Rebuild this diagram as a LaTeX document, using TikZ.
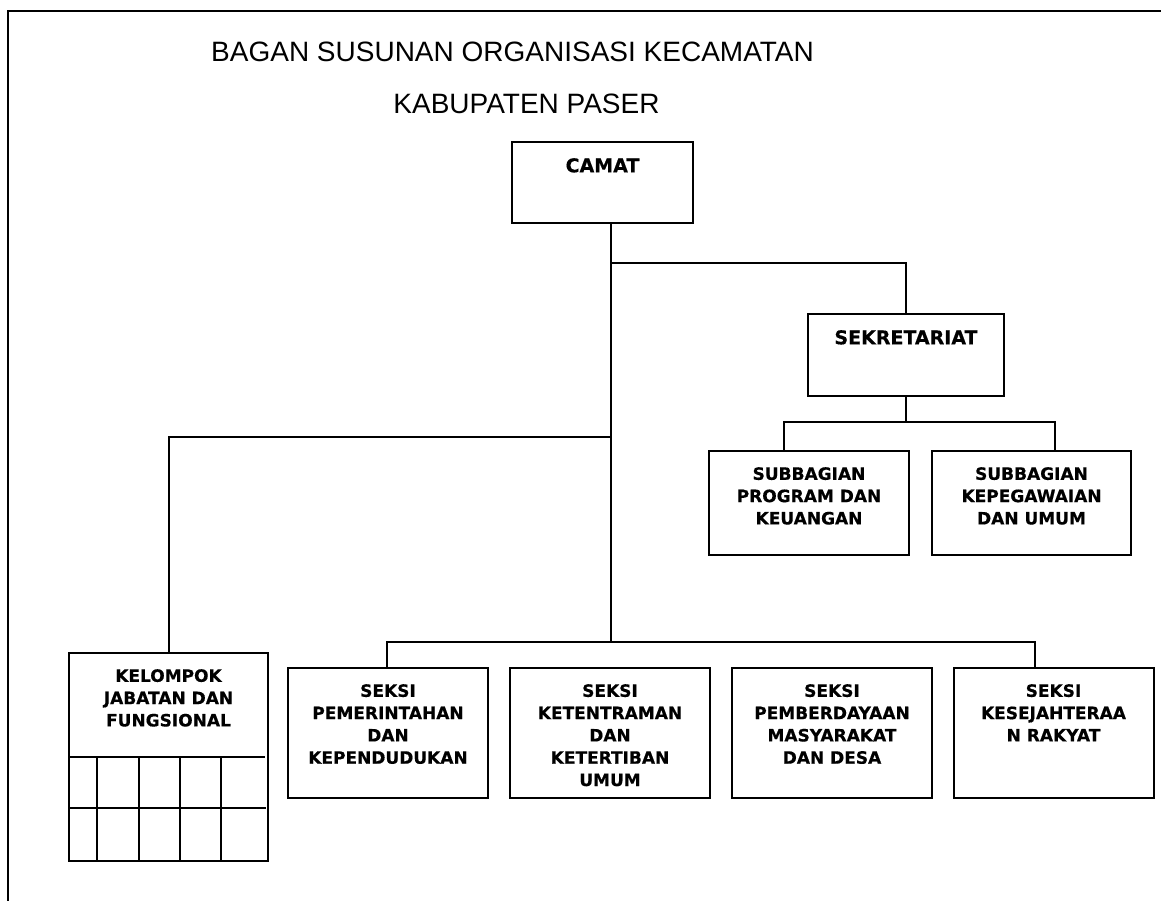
\documentclass[tikz,border=0pt]{standalone}
\usepackage{fontspec}
\setmainfont{Liberation Sans}
\newfontfamily\chartfont[BoldFeatures={FakeBold=0.5}]{DejaVu Sans}
\usetikzlibrary{positioning}

\tikzset{
  unit/.style={draw, line width=2pt, inner sep=0pt, minimum width=200pt, minimum height=104pt},
  unittext/.style={font=\chartfont\bfseries\fontsize{17}{22.3}\selectfont, align=center, inner sep=0pt},
  bigtext/.style={unittext, font=\chartfont\bfseries\fontsize{19}{23}\selectfont},
  headtext/.style={font=\fontsize{28}{34}\selectfont, inner sep=0pt, anchor=base},
  link/.style={line width=2pt},
}

\begin{document}
\begin{tikzpicture}[x=1pt, y=-1pt]
  \useasboundingbox (0,0) rectangle (1161,901);
  % frame
  \draw[link] (8,901) -- (8,11) -- (1161,11);

  % title
  \node[headtext] (title-a) at (512.5,62) {BAGAN SUSUNAN ORGANISASI KECAMATAN};
  \node[headtext] (title-b) at (526.5,114) {KABUPATEN PASER};

  % boxes
  \node[unit, minimum width=181pt, minimum height=81pt] (camat) at (602.5,182.5) {};
  \node[unit, minimum width=196pt, minimum height=82pt] (sekretariat) at (906,355) {};
  \node[unit] (subprog) at (809,503) {};
  \node[unit, minimum width=199pt] (subpeg) at (1031.5,503) {};
  \node[unit, minimum width=199pt, minimum height=208pt] (kelompok) at (168.5,757) {};
  \node[unit, minimum height=130pt] (seksi1) at (388,733) {};
  \node[unit, minimum height=130pt] (seksi2) at (610,733) {};
  \node[unit, minimum height=130pt] (seksi3) at (832,733) {};
  \node[unit, minimum height=130pt] (seksi4) at (1053.5,733) {};

  % texts
  \node[bigtext, below=17pt of camat.north] (camat-t) {CAMAT};
  \node[bigtext, below=17pt of sekretariat.north] (sekretariat-t) {SEKRETARIAT};
  \node[unittext, below=17pt of subprog.north] (subprog-t) {SUBBAGIAN\\PROGRAM DAN\\KEUANGAN};
  \node[unittext, below=17pt of subpeg.north] (subpeg-t) {SUBBAGIAN\\KEPEGAWAIAN\\DAN UMUM};
  \node[unittext, below=17pt of kelompok.north] (kelompok-t) {KELOMPOK\\JABATAN DAN\\FUNGSIONAL};
  \node[unittext, below=17pt of seksi1.north] (seksi1-t) {SEKSI\\PEMERINTAHAN\\DAN\\KEPENDUDUKAN};
  \node[unittext, below=17pt of seksi2.north] (seksi2-t) {SEKSI\\KETENTRAMAN\\DAN\\KETERTIBAN\\UMUM};
  \node[unittext, below=17pt of seksi3.north] (seksi3-t) {SEKSI\\PEMBERDAYAAN\\MASYARAKAT\\DAN DESA};
  \node[unittext, below=17pt of seksi4.north] (seksi4-t) {SEKSI\\KESEJAHTERAA\\N RAKYAT};

  % grid under kelompok
  \draw[link] (69,757) -- (265,757);
  \draw[link] (69,808) -- (266,808);
  \foreach \gx in {97,139,180,221}
    \draw[link] (\gx,757) -- (\gx,861);

  % connectors
  \coordinate (spine-a) at (611,263);
  \coordinate (spine-b) at (611,437);
  \coordinate (spine-c) at (611,642);
  \coordinate (sub-left) at (784,422);
  \coordinate (sub-right) at (1055,422);
  \coordinate (seksi-left) at (387,642);
  \coordinate (seksi-right) at (1035,642);

  \draw[link] (camat.south -| spine-a) -- (spine-c);
  \draw[link] (spine-a) -- (spine-a -| sekretariat.north) -- (sekretariat.north);
  \draw[link] (sekretariat.south) -- (sekretariat.south |- sub-left);
  \draw[link] (subprog.north -| sub-left) -- (sub-left) -- (sub-right) -- (subpeg.north -| sub-right);
  \draw[link] (spine-b) -- (spine-b -| kelompok.north) -- (kelompok.north);
  \draw[link] (seksi1.north -| seksi-left) -- (seksi-left) -- (seksi-right) -- (seksi4.north -| seksi-right);
\end{tikzpicture}
\end{document}
